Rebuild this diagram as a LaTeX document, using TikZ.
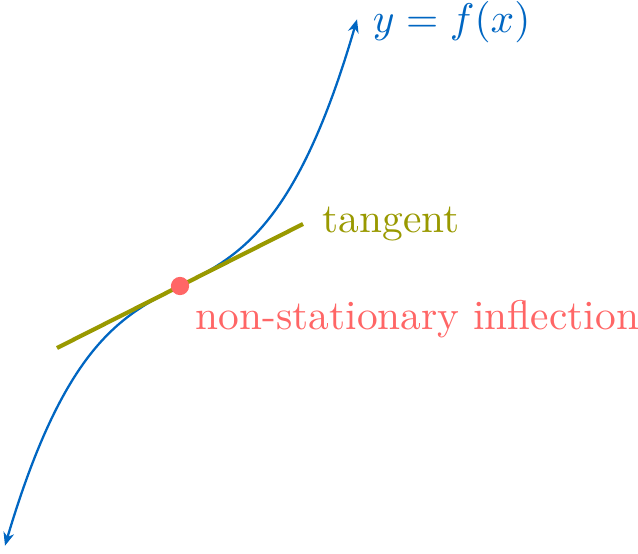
\documentclass[tikz,border=0pt]{standalone}
\usetikzlibrary{arrows.meta}
\definecolor{cblue}{RGB}{0,102,194}
\definecolor{colive}{RGB}{153,153,0}
\definecolor{cred}{RGB}{255,102,102}
\tikzset{
  curvestyle/.style={cblue, line width=0.55pt, {Stealth[length=3.2pt,width=2.6pt,inset=1pt]}-{Stealth[length=3.2pt,width=2.6pt,inset=1pt]}},
  tangentstyle/.style={colive, line width=1pt},
  dotstyle/.style={circle, fill=cred, inner sep=0pt, minimum size=4.4pt},
  lbl/.style={inner sep=0pt, anchor=west}
}
\begin{document}
\begin{tikzpicture}[x=0.2415pt,y=-0.2415pt]
\useasboundingbox (0,0) rectangle (638,553);
\draw[curvestyle] plot[domain=-175:177, samples=120, smooth] ({180+\x},{286-(0.504*\x+32*(\x/100)*(\x/100)*(\x/100))});
\coordinate (t1) at (57,348);
\coordinate (t2) at (303,224);
\draw[tangentstyle] (t1) -- (t2);
\node[dotstyle] (p) at (180,286) {};
\node[lbl, text=cblue] (fx) at (372,22) {$y=f(x)$};
\node[lbl, text=colive] (tg) at (322,224) {tangent};
\node[lbl, text=cred] (inf) at (195,319) {non-stationary inflection};
\end{tikzpicture}
\end{document}
